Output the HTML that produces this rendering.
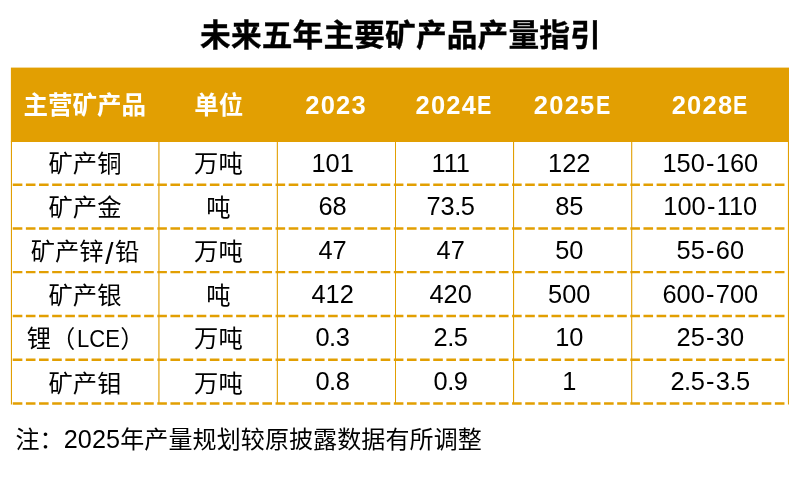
<!DOCTYPE html>
<html lang="zh-CN">
<head>
<meta charset="utf-8">
<title>未来五年主要矿产品产量指引</title>
<style>
html,body{margin:0;padding:0;background:#fff;}
body{width:800px;height:477px;position:relative;overflow:hidden;
 font-family:"Liberation Sans","Noto Sans CJK SC",sans-serif;color:#000;}
.title{position:absolute;left:0;width:801px;top:15px;height:42px;line-height:42px;text-align:center;
 font-size:30.7px;font-weight:bold;letter-spacing:.15px;white-space:nowrap;-webkit-text-stroke:.35px #000;}
.c{position:absolute;width:160px;display:flex;align-items:center;justify-content:center;white-space:nowrap;
 font-size:24.3px;line-height:30px;}
.h{color:#fff;font-weight:bold;font-size:24.5px;}
.n{font-size:25.4px;}
.hn{font-size:25.5px;letter-spacing:1.25px;}
.e{display:inline-block;transform:scaleX(.84);transform-origin:0 50%;margin-right:-3px;}
.hy{margin:0 1.3px;}
.sl{display:inline-block;margin:0 2.4px;transform:translateY(1.6px) scale(1.22,1.25);}
.dt{margin:0 -.5px;}
.lat{display:inline-block;transform:scaleX(.9075);transform-origin:0 50%;margin:0 -4.4px 0 2px;}
.note{position:absolute;left:15.4px;top:422.7px;font-size:24px;letter-spacing:.12px;line-height:32px;white-space:nowrap;}
.note span{font-size:25.2px;}
svg{position:absolute;left:0;top:0;}
</style>
</head>
<body>
<div class="title">未来五年主要矿产品产量指引</div>

<svg width="800" height="477" viewBox="0 0 800 477" fill="none" stroke="#E29F02">
<rect x="10.9" y="67.6" width="778.1" height="74.4" fill="#E29F02" stroke="none"/>
<line x1="11.45" y1="141" x2="11.45" y2="404.6" stroke-width="1.1"/>
<line x1="788.46" y1="141" x2="788.46" y2="404.6" stroke-width="1.08"/>
<line x1="158.93" y1="141" x2="158.93" y2="404" stroke-width="1.15"/>
<line x1="277.35" y1="141" x2="277.35" y2="404" stroke-width="1.10"/>
<line x1="395.50" y1="141" x2="395.50" y2="404" stroke-width="1.00"/>
<line x1="513.55" y1="141" x2="513.55" y2="404" stroke-width="1.10"/>
<line x1="631.70" y1="141" x2="631.70" y2="404" stroke-width="1.10"/>
<line x1="12.75" y1="184.75" x2="784.6" y2="184.75" stroke-width="2.4" stroke-dasharray="9.6 3.54"/>
<line x1="12.75" y1="228.45" x2="784.6" y2="228.45" stroke-width="2.4" stroke-dasharray="9.6 3.54"/>
<line x1="12.75" y1="272.15" x2="784.6" y2="272.15" stroke-width="2.4" stroke-dasharray="9.6 3.54"/>
<line x1="12.75" y1="316.00" x2="784.6" y2="316.00" stroke-width="2.4" stroke-dasharray="9.6 3.54"/>
<line x1="12.75" y1="359.70" x2="784.6" y2="359.70" stroke-width="2.4" stroke-dasharray="9.6 3.54"/>
<line x1="12.75" y1="403.50" x2="784.6" y2="403.50" stroke-width="2.4" stroke-dasharray="9.6 3.54"/>
</svg>
<div class="c h" style="left:4.8px;top:68.8px;height:74px">主营矿产品</div>
<div class="c h" style="left:138.8px;top:68.8px;height:74px">单位</div>
<div class="c h hn" style="left:256.1px;top:67.5px;height:74px">2023</div>
<div class="c h hn" style="left:374.0px;top:67.5px;height:74px">2024<span class="e">E</span></div>
<div class="c h hn" style="left:492.3px;top:67.5px;height:74px">2025<span class="e">E</span></div>
<div class="c h hn" style="left:630.2px;top:67.5px;height:74px">2028<span class="e">E</span></div>
<div class="c" style="left:5.0px;top:142.0px;height:43.1px">矿产铜</div>
<div class="c" style="left:138.4px;top:142.0px;height:43.1px">万吨</div>
<div class="c n" style="left:252.6px;top:141.2px;height:43.1px">101</div>
<div class="c n" style="left:370.7px;top:141.2px;height:43.1px">111</div>
<div class="c n" style="left:489.3px;top:141.2px;height:43.1px">122</div>
<div class="c n" style="left:630.3px;top:141.2px;height:43.1px">150<span class="hy">-</span>160</div>
<div class="c" style="left:5.0px;top:186.1px;height:43.7px">矿产金</div>
<div class="c" style="left:138.4px;top:186.1px;height:43.7px">吨</div>
<div class="c n" style="left:252.6px;top:184.3px;height:43.7px">68</div>
<div class="c n" style="left:370.7px;top:184.3px;height:43.7px">73<span class="dt">.</span>5</div>
<div class="c n" style="left:489.3px;top:184.3px;height:43.7px">85</div>
<div class="c n" style="left:630.3px;top:184.3px;height:43.7px">100<span class="hy">-</span>110</div>
<div class="c" style="left:5.0px;top:229.8px;height:43.7px">矿产锌<span class="sl">/</span>铅</div>
<div class="c" style="left:138.4px;top:229.8px;height:43.7px">万吨</div>
<div class="c n" style="left:252.6px;top:228.0px;height:43.7px">47</div>
<div class="c n" style="left:370.7px;top:228.0px;height:43.7px">47</div>
<div class="c n" style="left:489.3px;top:228.0px;height:43.7px">50</div>
<div class="c n" style="left:630.3px;top:228.0px;height:43.7px">55<span class="hy">-</span>60</div>
<div class="c" style="left:5.0px;top:274.0px;height:43.7px">矿产银</div>
<div class="c" style="left:138.4px;top:274.0px;height:43.7px">吨</div>
<div class="c n" style="left:252.6px;top:271.7px;height:43.7px">412</div>
<div class="c n" style="left:370.7px;top:271.7px;height:43.7px">420</div>
<div class="c n" style="left:489.3px;top:271.7px;height:43.7px">500</div>
<div class="c n" style="left:630.3px;top:271.7px;height:43.7px">600<span class="hy">-</span>700</div>
<div class="c" style="left:5.0px;top:317.2px;height:43.7px"><span style="margin-left:1.2px">锂</span>（<span class="lat">LCE</span>）</div>
<div class="c" style="left:138.4px;top:317.2px;height:43.7px">万吨</div>
<div class="c n" style="left:252.6px;top:315.4px;height:43.7px">0<span class="dt">.</span>3</div>
<div class="c n" style="left:370.7px;top:315.4px;height:43.7px">2<span class="dt">.</span>5</div>
<div class="c n" style="left:489.3px;top:315.4px;height:43.7px">10</div>
<div class="c n" style="left:630.3px;top:315.4px;height:43.7px">25<span class="hy">-</span>30</div>
<div class="c" style="left:5.0px;top:361.9px;height:43.7px">矿产钼</div>
<div class="c" style="left:138.4px;top:361.9px;height:43.7px">万吨</div>
<div class="c n" style="left:252.6px;top:359.1px;height:43.7px">0<span class="dt">.</span>8</div>
<div class="c n" style="left:370.7px;top:359.1px;height:43.7px">0<span class="dt">.</span>9</div>
<div class="c n" style="left:489.3px;top:359.1px;height:43.7px">1</div>
<div class="c n" style="left:630.3px;top:359.1px;height:43.7px">2<span class="dt">.</span>5<span class="hy">-</span>3<span class="dt">.</span>5</div>
<div class="note">注：<span>2025</span>年产量规划较原披露数据有所调整</div>
</body>
</html>
